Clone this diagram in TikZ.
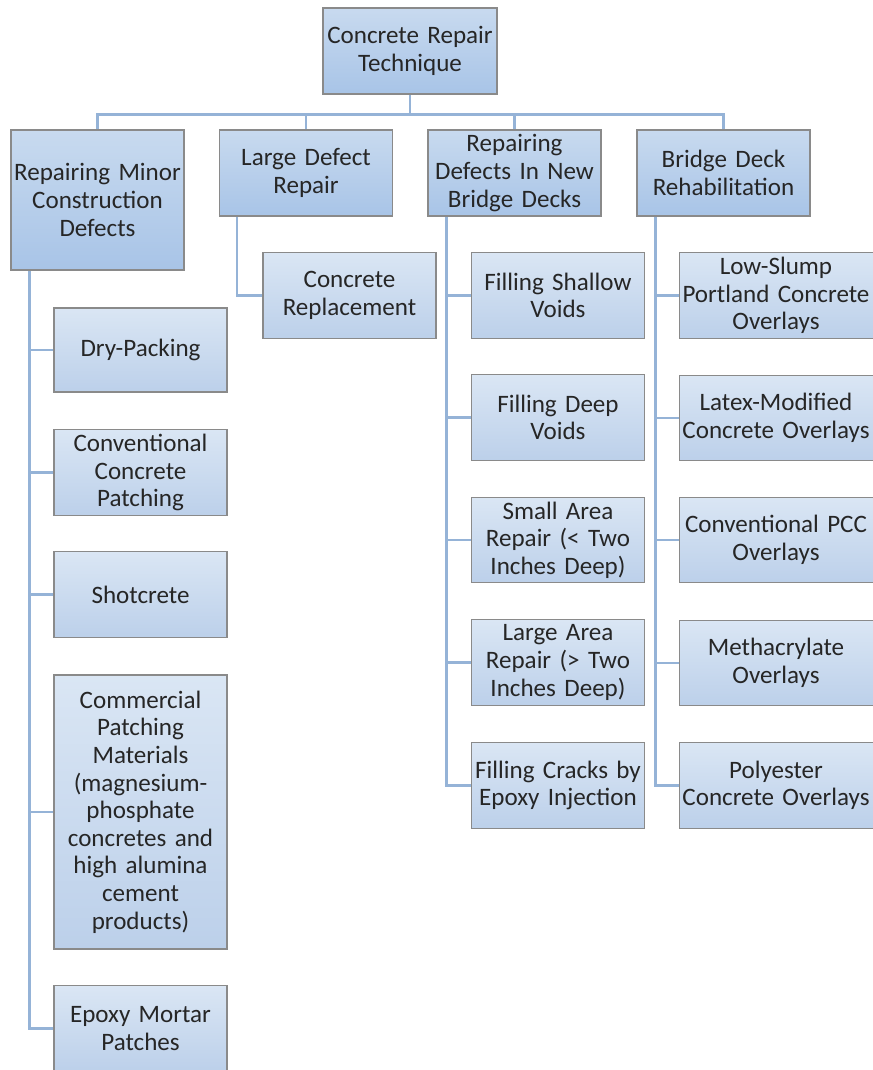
\documentclass[tikz,border=0pt]{standalone}
\usepackage{fontspec}
\setmainfont{Carlito}
\usetikzlibrary{backgrounds}
\definecolor{bordergray}{HTML}{8A8A8A}
\definecolor{lvTop}{HTML}{C8DAEF}
\definecolor{lvBot}{HTML}{A8C4E7}
\definecolor{lfTop}{HTML}{DAE6F4}
\definecolor{lfBot}{HTML}{BCD0EA}
\definecolor{connblue}{HTML}{95B3D7}
\definecolor{txt}{HTML}{262626}
\begin{document}
\begin{tikzpicture}[x=0.75pt,y=-0.75pt,
  box/.style={draw=bordergray, line width=0.8pt, align=center, inner sep=0pt, text=txt,
    font=\fontsize{18.8}{20.7}\selectfont, minimum width=129.75pt, text width=129.75pt},
  hi/.style={box, top color=lvTop, bottom color=lvBot},
  lo/.style={box, top color=lfTop, bottom color=lfBot, minimum height=64pt},
  dtext/.style={draw=none, align=center, inner sep=0pt, text=txt,
    font=\fontsize{18.8}{20.7}\selectfont, text width=144pt, minimum height=64pt},
  dfill/.style={draw=bordergray, line width=0.8pt, top color=lfTop, bottom color=lfBot},
  conn/.style={draw=connblue, line width=2.2pt}]
\useasboundingbox (0,0) rectangle (873,1070);
% root and level 1
\node[hi, minimum width=130.5pt, minimum height=64.5pt] (root) at (410,51) {Concrete Repair\\Technique};
\node[hi, minimum height=105pt] (A) at (97.5,200) {Repairing Minor\\Construction\\Defects};
\node[hi, minimum height=64.5pt] (B) at (306,173) {Large Defect\\Repair};
\node[hi, minimum height=64.5pt] (C) at (514.5,173) {Repairing\\Defects In New\\Bridge Decks};
\node[hi, minimum height=64.5pt] (D) at (723.5,173) {Bridge Deck\\Rehabilitation};
% A children
\node[lo, minimum height=63pt] (A1) at (140.5,350) {Dry-Packing};
\node[lo, minimum height=65pt] (A2) at (140.5,472.5) {Conventional\\Concrete\\Patching};
\node[lo] (A3) at (140.5,594.5) {Shotcrete};
\node[lo, minimum height=205.5pt] (A4) at (140.5,812) {Commercial\\Patching\\Materials\\(magnesium-\\phosphate\\concretes and\\high alumina\\cement\\products)};
\node[lo] (A5) at (140.5,1028.5) {Epoxy Mortar\\Patches};
% B child
\node[lo] (B1) at (349.5,295.5) {Concrete\\Replacement};
% C children
\node[lo] (C1) at (558,295.5) {Filling Shallow\\Voids};
\node[lo] (C2) at (558,417.5) {Filling Deep\\Voids};
\node[lo] (C3) at (558,540) {Small Area\\Repair (< Two\\Inches Deep)};
\node[lo] (C4) at (558,662.5) {Large Area\\Repair (> Two\\Inches Deep)};
\node[lo] (C5) at (558,785.5) {Filling Cracks by\\Epoxy Injection};
% D children (boxes run past the right edge)
\node[dtext] (D1) at (776,295.5) {Low-Slump\\Portland Concrete\\Overlays};
\node[dtext] (D2) at (776,418) {Latex-Modified\\Concrete Overlays};
\node[dtext] (D3) at (776,540) {Conventional PCC\\Overlays};
\node[dtext] (D4) at (776,663) {Methacrylate\\Overlays};
\node[dtext] (D5) at (776,785.5) {Polyester\\Concrete Overlays};
\coordinate (Ab) at ([xshift=14.25pt]A.south west);
\coordinate (Bb) at ([xshift=13.5pt]B.south west);
\coordinate (Cb) at ([xshift=14.25pt]C.south west);
\coordinate (Db) at ([xshift=14.25pt]D.south west);
\begin{scope}[on background layer]
  \foreach \n in {A,B,C,D} \draw[conn] (root.south) -- ++(0,20) -| (\n.north);
  \foreach \n in {A1,A2,A3,A4,A5} \draw[conn] (Ab) |- (\n.west);
  \draw[conn] (Bb) |- (B1.west);
  \foreach \n in {C1,C2,C3,C4,C5} \draw[conn] (Cb) |- (\n.west);
  \foreach \n in {D1,D2,D3,D4,D5} {
    \draw[conn] (Db) |- (\n.west);
    \draw[dfill] (\n.north west) rectangle ([xshift=90pt]\n.south east);
  }
\end{scope}
\end{tikzpicture}
\end{document}
